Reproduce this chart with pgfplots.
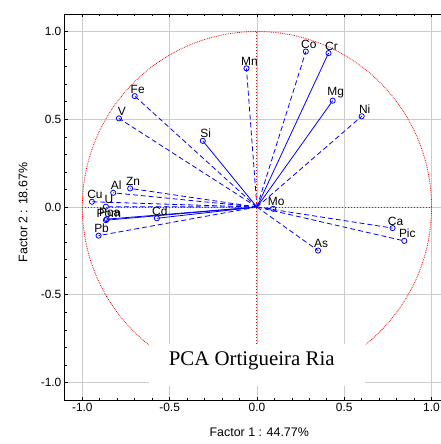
\documentclass[border=0pt]{standalone}
\usepackage{fontspec}
\setmainfont{Liberation Sans}
\newfontfamily\serifttl{Liberation Serif}
\usepackage{pgfplots}
\usepackage{pgfplotstable}
\pgfplotsset{compat=1.18}

\pgfplotstableread{
x y label
0.28 0.886 Co
-0.06 0.79 Mn
0.60 0.517 Ni
-0.70 0.632 Fe
-0.79 0.505 V
0.093 -0.01 Mo
0.777 -0.12 Ca
0.844 -0.193 Pic
0.35 -0.248 As
-0.945 0.03 Cu
-0.823 0.081 Al
-0.726 0.106 Zn
-0.865 0.002 U
-0.907 -0.163 Pb
}\dashedtab

\pgfplotstableread{
x y label
0.41 0.877 Cr
0.434 0.606 Mg
-0.31 0.377 Si
-0.573 -0.064 Cd
-0.865 -0.075 Pom
-0.860 -0.069 Poa
}\solidtab

\begin{document}
\begin{tikzpicture}
\begin{axis}[
  at={(0,0)}, anchor=south west,
  scale only axis, width=385bp, height=387bp,
  xmin=-1.1, xmax=1.1, ymin=-1.1, ymax=1.1,
  xtick={-1,-0.5,0,0.5,1}, ytick={-1,-0.5,0,0.5,1},
  xticklabels={-1.0,-0.5,0.0,0.5,1.0},
  yticklabels={-1.0,-0.5,0.0,0.5,1.0},
  minor tick num=4,
  grid=major,
  major grid style={gray!40, line width=0.6bp},
  tick style={black, line width=0.6bp},
  major tick length=3bp, minor tick length=2bp,
  axis line style={black, line width=0.8bp},
  tick label style={font=\fontsize{12}{14}\selectfont},
  label style={font=\fontsize{12.5}{14}\selectfont},
  xlabel={Factor 1 : 44.77\%},
  ylabel={Factor 2 : 18.67\%},
  xlabel style={at={(axis description cs:0.506,-0.083)}, anchor=center},
  ylabel style={at={(axis description cs:-0.109,0.486)}, anchor=center, rotate=0},
  nodes near coords style={font=\fontsize{12}{14}\selectfont, anchor=south, inner sep=1bp, xshift=3bp, yshift=1.5bp, text=black},
]
% unit circle
\draw[red, densely dotted, line width=0.8bp] (axis cs:0,0) ellipse [x radius=1, y radius=1];

% dashed vectors
\pgfplotsinvokeforeach{0,...,13}{
  \pgfplotstablegetelem{#1}{x}\of\dashedtab \let\vx\pgfplotsretval
  \pgfplotstablegetelem{#1}{y}\of\dashedtab \let\vy\pgfplotsretval
  \edef\temp{\noexpand\addplot[blue, line width=0.8bp, dash pattern=on 5bp off 3bp, forget plot] coordinates {(0,0) (\vx,\vy)};}
  \temp
}
% solid vectors
\pgfplotsinvokeforeach{0,...,5}{
  \pgfplotstablegetelem{#1}{x}\of\solidtab \let\vx\pgfplotsretval
  \pgfplotstablegetelem{#1}{y}\of\solidtab \let\vy\pgfplotsretval
  \edef\temp{\noexpand\addplot[blue, line width=0.8bp, forget plot] coordinates {(0,0) (\vx,\vy)};}
  \temp
}
% crosshair
\draw[red, dotted, line width=1bp] (axis cs:-1,0) -- (axis cs:1,0);
\draw[red, dotted, line width=1bp] (axis cs:0,-1) -- (axis cs:0,1);

% end markers with labels
\addplot[only marks, mark=o, mark size=2.6bp, blue, line width=0.8bp,
  nodes near coords, point meta=explicit symbolic]
  table[x=x, y=y, meta=label] {\dashedtab};
\addplot[only marks, mark=o, mark size=2.6bp, blue, line width=0.8bp,
  nodes near coords, point meta=explicit symbolic]
  table[x=x, y=y, meta=label] {\solidtab};

% title box
\fill[white] (axis cs:-0.617,-0.778) rectangle (axis cs:0.617,-1.017);
\node[font=\serifttl\fontsize{21}{24}\selectfont, anchor=base] at (axis cs:-0.03,-0.905) {PCA Ortigueira Ria};
\end{axis}
\pgfresetboundingbox
\path[use as bounding box] (-65bp,-44bp) rectangle (376bp,401bp);
\end{tikzpicture}
\end{document}
